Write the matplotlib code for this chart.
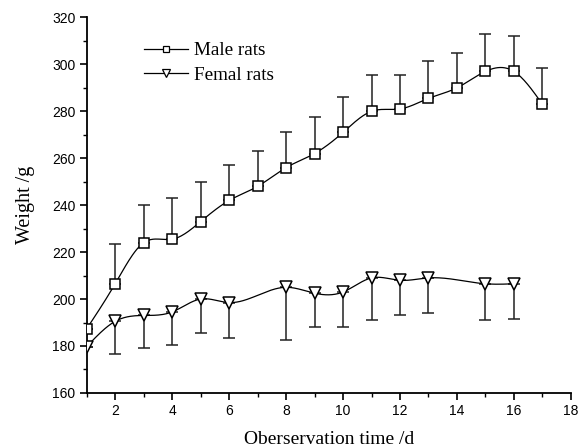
import numpy as np
import matplotlib.pyplot as plt
from matplotlib.ticker import MultipleLocator

# observation days and body weights (g)
male_days = [1, 2, 3, 4, 5, 6, 7, 8, 9, 10, 11, 12, 13, 14, 15, 16, 17]
male_weight = [187.3, 206.5, 224, 225.5, 233, 242, 248, 256, 262, 271,
               280, 281, 285.5, 290, 297, 297, 283]
male_err = [0, 17, 16, 17.5, 17, 15, 15, 15, 15.5, 15, 15.5, 14.5, 16, 15, 16, 15, 15.5]

female_days = [1, 2, 3, 4, 5, 6, 8, 9, 10, 11, 12, 13, 15, 16]
female_weight = [179.7, 190.5, 193, 194.5, 200, 198.5, 205, 202.5, 203,
                 209, 208, 209, 206.5, 206.5]
female_err = [0, 14, 14, 14, 14.5, 15, 22.5, 14.5, 15, 18, 15, 15, 15.5, 15]


def natural_spline(x, y, n=400):
    # plain natural cubic spline, only used to draw the connecting curve
    x = np.asarray(x, float)
    y = np.asarray(y, float)
    k = len(x)
    h = np.diff(x)
    A = np.zeros((k, k))
    b = np.zeros(k)
    A[0, 0] = A[-1, -1] = 1
    for i in range(1, k - 1):
        A[i, i - 1] = h[i - 1]
        A[i, i] = 2 * (h[i - 1] + h[i])
        A[i, i + 1] = h[i]
        b[i] = 3 * ((y[i + 1] - y[i]) / h[i] - (y[i] - y[i - 1]) / h[i - 1])
    c = np.linalg.solve(A, b)
    xs = np.linspace(x[0], x[-1], n)
    idx = np.clip(np.searchsorted(x, xs) - 1, 0, k - 2)
    dx = xs - x[idx]
    bb = (y[idx + 1] - y[idx]) / h[idx] - h[idx] * (2 * c[idx] + c[idx + 1]) / 3
    dd = (c[idx + 1] - c[idx]) / (3 * h[idx])
    ys = y[idx] + bb * dx + c[idx] * dx ** 2 + dd * dx ** 3
    return xs, ys


fig = plt.figure(figsize=(5.79, 4.47), dpi=100)
ax = fig.add_axes([0.1497, 0.121, 0.8363, 0.840])

serif = ['Liberation Serif', 'DejaVu Serif']
sans = ['Liberation Sans', 'DejaVu Sans']

xs, ys = natural_spline(male_days, male_weight)
ax.plot(xs, ys, color='black', lw=0.9, zorder=2)
xs, ys = natural_spline(female_days, female_weight)
ax.plot(xs, ys, color='black', lw=0.9, zorder=2)

ax.errorbar(male_days, male_weight, yerr=[np.zeros(len(male_err)), male_err],
            fmt='none', ecolor='#222222', elinewidth=1.1, capsize=4, capthick=1.1, zorder=1)
ax.errorbar(female_days, female_weight, yerr=[female_err, np.zeros(len(female_err))],
            fmt='none', ecolor='#222222', elinewidth=1.1, capsize=4, capthick=1.1, zorder=1)

ax.plot(male_days, male_weight, ls='none', marker='s', ms=7, mfc='white',
        mec='black', mew=1.1, zorder=3)
ax.plot(female_days, female_weight, ls='none', marker='v', ms=9, mfc='white',
        mec='black', mew=1.1, zorder=3)

# legend proxies
ax.plot([], [], color='black', lw=0.9, marker='s', ms=5, mfc='white', mec='black',
        mew=0.9, label='Male rats')
ax.plot([], [], color='black', lw=0.9, marker='v', ms=6, mfc='white', mec='black',
        mew=0.9, label='Femal rats')
ax.legend(loc='upper left', bbox_to_anchor=(0.103, 0.955), frameon=False,
          prop={'family': serif, 'size': 13.8}, handlelength=2.3, handletextpad=0.3,
          labelspacing=0.35, borderaxespad=0)

ax.set_xlim(1, 18)
ax.set_ylim(160, 320)
ax.xaxis.set_major_locator(MultipleLocator(2))
ax.xaxis.set_minor_locator(MultipleLocator(1))
ax.yaxis.set_major_locator(MultipleLocator(20))
ax.yaxis.set_minor_locator(MultipleLocator(10))
ax.set_xticks(range(2, 19, 2))

for side in ['top', 'right']:
    ax.spines[side].set_visible(False)
for side in ['left', 'bottom']:
    ax.spines[side].set_linewidth(1.3)
ax.tick_params(which='major', direction='out', length=5, width=1.2, labelsize=10, pad=3)
ax.tick_params(which='minor', direction='out', length=3, width=1.0)
for lab in ax.get_xticklabels() + ax.get_yticklabels():
    lab.set_family(sans)

ax.set_xlabel('Oberservation time /d', family=serif, fontsize=14, labelpad=9)
ax.set_ylabel('Weight /g', family=serif, fontsize=14.5, labelpad=12)

fig.savefig('out.png', dpi=100)
